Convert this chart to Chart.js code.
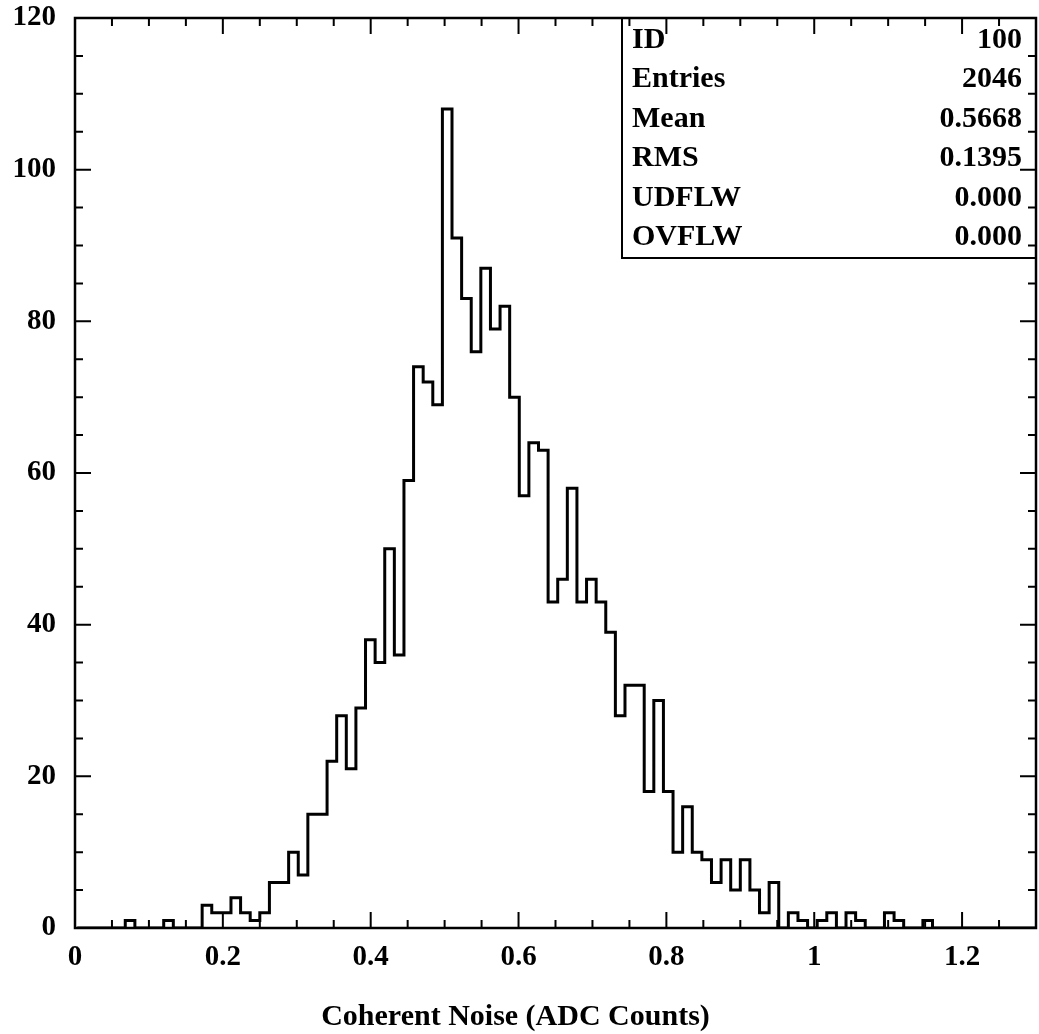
<!DOCTYPE html>
<html>
<head>
<meta charset="utf-8">
<script src="https://cdn.jsdelivr.net/npm/chart.js@4.4.0/dist/chart.umd.min.js"></script>
<style>
  body { margin: 0; background: #fff; }
  #wrap { width: 1039px; height: 1034px; position: relative; }
</style>
</head>
<body>
<div id="wrap"><canvas id="chart"></canvas></div>
<script>
// --- Data ---
const binStart = 0.003;
const binWidth = 0.013;
const counts = [
  0, 0, 0, 0, 0, 1, 0, 0, 0, 1,
  0, 0, 0, 3, 2, 2, 4, 2, 1, 2,
  6, 6, 10, 7, 15, 15, 22, 28, 21, 29,
  38, 35, 50, 36, 59, 74, 72, 69, 108, 91,
  83, 76, 87, 79, 82, 70, 57, 64, 63, 43,
  46, 58, 43, 46, 43, 39, 28, 32, 32, 18,
  30, 18, 10, 16, 10, 9, 6, 9, 5, 9,
  5, 2, 6, 0, 2, 1, 0, 1, 2, 0,
  2, 1, 0, 0, 2, 1, 0, 0, 1, 0,
  0, 0, 0, 0, 0, 0, 0, 0, 0, 0,
];
const xTicks = [0, 0.2, 0.4, 0.6, 0.8, 1, 1.2];
const yTicks = [0, 20, 40, 60, 80, 100, 120];
const xTitle = "Coherent Noise (ADC Counts)";
const statLabels = ["ID", "Entries", "Mean", "RMS", "UDFLW", "OVFLW"];
const statValues = ["100", "2046", "0.5668", "0.1395", "0.000", "0.000"];

const xMinor = 0.05;
const yMinor = 5;
const serif = "'Liberation Serif', 'Times New Roman', serif";

// histogram outline points (left edge of each bin, closing at the last edge)
const points = counts.map((c, i) => ({ x: binStart + i * binWidth, y: c }));
points.push({ x: binStart + counts.length * binWidth, y: 0 });

// --- Frame, inner ticks, stats box and axis title ---
const framePlugin = {
  id: "frame",
  afterDatasetsDraw(chart) {
    const { ctx, chartArea: a, scales } = chart;
    const xs = scales.x;
    const ys = scales.y;
    ctx.save();

    // stats box
    const boxW = 414;
    const boxH = 240;
    const bx = a.right - boxW;
    ctx.fillStyle = "#fff";
    ctx.fillRect(bx, a.top, boxW, boxH);
    ctx.strokeStyle = "#000";
    ctx.lineWidth = 2;
    ctx.beginPath();
    ctx.moveTo(bx, a.top);
    ctx.lineTo(bx, a.top + boxH);
    ctx.lineTo(a.right, a.top + boxH);
    ctx.stroke();

    ctx.fillStyle = "#000";
    ctx.font = "bold 30px " + serif;
    ctx.textBaseline = "middle";
    statLabels.forEach((lab, i) => {
      const ty = a.top + 22 + i * 39.5;
      ctx.textAlign = "left";
      ctx.fillText(lab, bx + 10, ty);
      ctx.textAlign = "right";
      ctx.fillText(statValues[i], a.right - 14, ty);
    });

    // axis title, centred on the page like the original
    ctx.textAlign = "center";
    ctx.fillText(xTitle, chart.width / 2 - 4, 1017);

    // frame
    ctx.lineWidth = 2.5;
    ctx.strokeRect(a.left, a.top, a.right - a.left, a.bottom - a.top);

    // ticks pointing inward on all four sides
    ctx.lineWidth = 2;
    ctx.beginPath();
    for (let k = 0; k * xMinor <= xs.max + 1e-9; k++) {
      const px = xs.getPixelForValue(k * xMinor);
      const len = k % 4 === 0 ? 16 : 8;
      ctx.moveTo(px, a.bottom);
      ctx.lineTo(px, a.bottom - len);
      ctx.moveTo(px, a.top);
      ctx.lineTo(px, a.top + len);
    }
    for (let k = 0; k * yMinor <= ys.max; k++) {
      const py = ys.getPixelForValue(k * yMinor);
      const len = k % 4 === 0 ? 16 : 8;
      ctx.moveTo(a.left, py);
      ctx.lineTo(a.left + len, py);
      ctx.moveTo(a.right, py);
      ctx.lineTo(a.right - len, py);
    }
    ctx.stroke();
    ctx.restore();
  },
};

// --- Chart ---
const ctx = document.getElementById("chart");
const chart = new Chart(ctx, {
  type: "line",
  data: {
    datasets: [
      {
        data: points,
        stepped: "before",
        borderColor: "#000",
        borderWidth: 3,
        pointRadius: 0,
        fill: false,
      },
    ],
  },
  options: {
    responsive: true,
    maintainAspectRatio: false,
    animation: false,
    layout: { padding: { top: 0, right: 3, left: 0, bottom: 0 } },
    plugins: {
      legend: { display: false },
      tooltip: { enabled: false },
    },
    scales: {
      x: {
        type: "linear",
        min: 0,
        max: 1.3,
        grid: { display: false, drawTicks: false },
        border: { display: false },
        afterBuildTicks: (s) => {
          s.ticks = xTicks.map((v) => ({ value: v }));
        },
        afterFit: (s) => {
          s.height = 106;
        },
        ticks: {
          color: "#000",
          padding: 12,
          maxRotation: 0,
          autoSkip: false,
          font: { family: serif, size: 29, weight: "bold" },
          callback: (v) => String(+v.toFixed(1)),
        },
      },
      y: {
        min: 0,
        max: 120,
        grid: { display: false, drawTicks: false },
        border: { display: false },
        afterBuildTicks: (s) => {
          s.ticks = yTicks.map((v) => ({ value: v }));
        },
        afterFit: (s) => {
          s.width = 75;
          s.paddingTop = 18;
          s.paddingBottom = 0;
        },
        ticks: {
          color: "#000",
          padding: 19,
          autoSkip: false,
          font: { family: serif, size: 29, weight: "bold" },
        },
      },
    },
  },
  plugins: [framePlugin],
});
</script>
</body>
</html>
